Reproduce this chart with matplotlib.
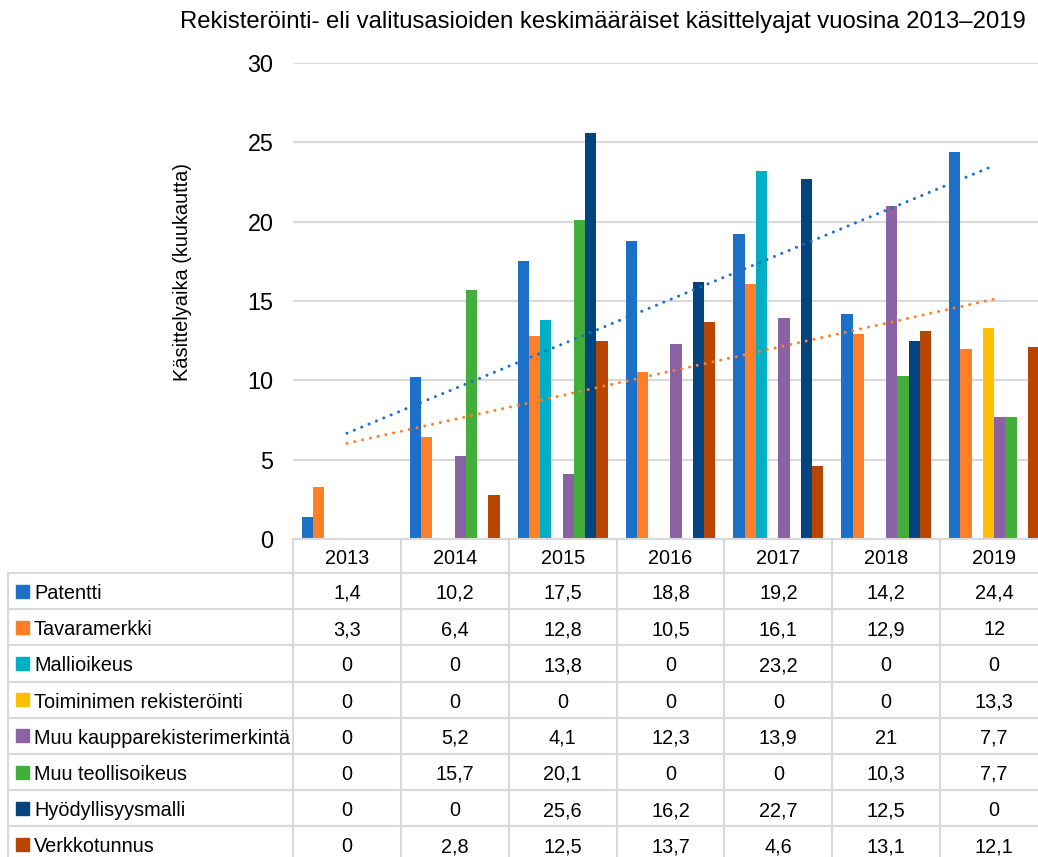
import numpy as np
import matplotlib
matplotlib.use("Agg")
import matplotlib.pyplot as plt
from matplotlib.transforms import blended_transform_factory
from matplotlib.patches import Rectangle
from matplotlib.lines import Line2D

plt.rcParams['font.family'] = ['Liberation Sans', 'DejaVu Sans']

years = ["2013", "2014", "2015", "2016", "2017", "2018", "2019"]
series_names = ["Patentti", "Tavaramerkki", "Mallioikeus", "Toiminimen rekisteröinti",
                "Muu kaupparekisterimerkintä", "Muu teollisoikeus", "Hyödyllisyysmalli", "Verkkotunnus"]
patentti = [1.4, 10.2, 17.5, 18.8, 19.2, 14.2, 24.4]
tavaramerkki = [3.3, 6.4, 12.8, 10.5, 16.1, 12.9, 12]
mallioikeus = [0, 0, 13.8, 0, 23.2, 0, 0]
toiminimi = [0, 0, 0, 0, 0, 0, 13.3]
muu_kauppa = [0, 5.2, 4.1, 12.3, 13.9, 21, 7.7]
muu_teollis = [0, 15.7, 20.1, 0, 0, 10.3, 7.7]
hyodyllisyys = [0, 0, 25.6, 16.2, 22.7, 12.5, 0]
verkkotunnus = [0, 2.8, 12.5, 13.7, 4.6, 13.1, 12.1]
colors = ["#1C70C8", "#FF7F27", "#00AEC5", "#FFC000", "#8B62A3", "#43AE3C", "#03437E", "#B84502"]

data = [patentti, tavaramerkki, mallioikeus, toiminimi, muu_kauppa, muu_teollis, hyodyllisyys, verkkotunnus]

W, H = 1038, 857
fig = plt.figure(figsize=(W / 100, H / 100), dpi=100)
fig.patch.set_facecolor("white")

left_px, right_px, top_px, zero_px = 293, 1048, 63, 539
ax = fig.add_axes([left_px / W, (H - zero_px) / H, (right_px - left_px) / W, (zero_px - top_px) / H])
x = np.arange(len(years))
nb = len(data)
bw = 0.104
for i, (vals, c) in enumerate(zip(data, colors)):
    ax.bar(x + (i - (nb - 1) / 2) * bw, vals, width=bw, color=c, edgecolor="none", zorder=3)

# linear trendlines
for vals, c in [(patentti, colors[0]), (tavaramerkki, colors[1])]:
    k, b = np.polyfit(x + 1, vals, 1)
    ax.plot(x, k * (x + 1) + b, color=c, lw=2.2, linestyle=(0, (0.01, 2.6)),
            dash_capstyle="round", solid_capstyle="round", zorder=4)

ax.set_xlim(-0.5, len(years) - 0.5)
ax.set_ylim(0, 30)
ax.set_yticks([0, 5, 10, 15, 20, 25, 30])
ax.set_xticks([])
ax.tick_params(axis="y", length=0, labelsize=16.8, pad=14)
for s in ax.spines.values():
    s.set_visible(False)
ax.yaxis.grid(True, color="#D9D9D9", lw=1.5, zorder=0)
ax.set_axisbelow(True)

fig.text(183 / W, 1 - 272 / H, "Käsittelyaika (kuukautta)", rotation=90,
         ha="center", va="center", fontsize=14.4)

fig.text(603 / W, 1 - 22 / H, "Rekisteröinti- eli valitusasioiden keskimääräiset käsittelyajat vuosina 2013–2019",
         ha="center", va="center", fontsize=17.2)

# data table
tax = fig.add_axes([0, 0, 1, 1], zorder=5)
tax.set_xlim(0, W)
tax.set_ylim(H, 0)
tax.axis("off")
bt = blended_transform_factory(ax.transData, tax.transData)
gc = "#D9D9D9"
glw = 1.5
tbl_left = 8
header_top, header_bot = 539, 573
row_h = 36.2
n_rows = len(series_names)
bottom = header_bot + n_rows * row_h
fs = 14.3
base_off = 7.8

# header row
tax.add_line(Line2D([left_px, right_px], [header_top, header_top], color=gc, lw=glw))
for j in range(len(years) + 1):
    tax.add_line(Line2D([j - 0.5, j - 0.5], [header_top, bottom], color=gc, lw=glw,
                        transform=bt, clip_on=False))
for j, yr in enumerate(years):
    tax.text(j, (header_top + header_bot) / 2 + base_off, yr, transform=bt, ha="center", va="baseline",
             fontsize=fs, clip_on=False)
tax.add_line(Line2D([tbl_left, tbl_left], [header_bot, bottom], color=gc, lw=glw))
for r in range(n_rows + 1):
    yy = header_bot + r * row_h
    tax.add_line(Line2D([tbl_left, right_px], [yy, yy], color=gc, lw=glw))


def fmt(v):
    return f"{v:g}".replace(".", ",")


for r, (name, vals, c) in enumerate(zip(series_names, data, colors)):
    yc = header_bot + (r + 0.5) * row_h
    tax.add_patch(Rectangle((16, yc - 6.5), 13, 13, color=c))
    tax.text(34, yc + base_off, name, ha="left", va="baseline", fontsize=fs)
    for j, v in enumerate(vals):
        tax.text(j, yc + base_off, fmt(v), transform=bt, ha="center", va="baseline", fontsize=fs,
                 clip_on=False)

fig.savefig("out.png", dpi=100)
